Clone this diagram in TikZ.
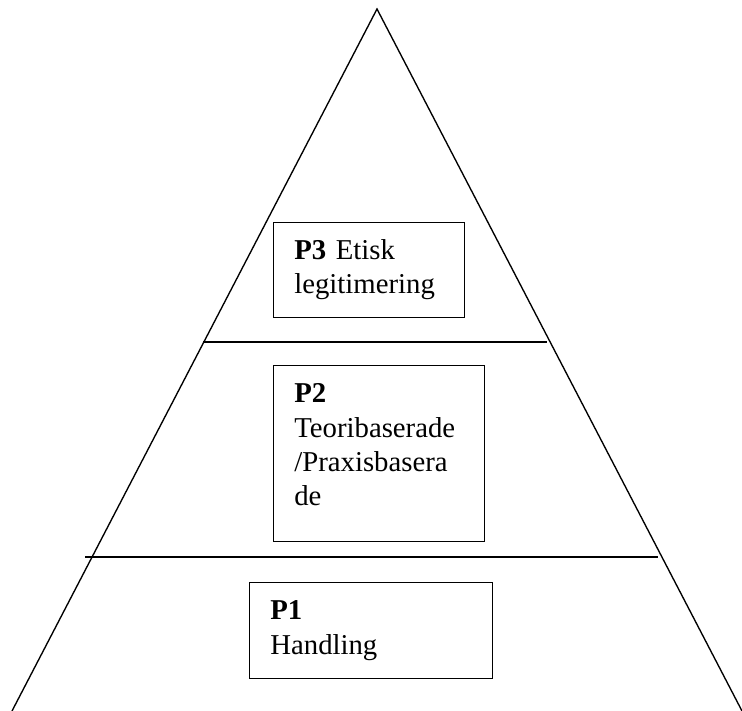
\documentclass[tikz,border=0pt]{standalone}
\usepackage{fontspec}
\setmainfont{Liberation Serif}
\usepackage{tikz}

\begin{document}
\begin{tikzpicture}[x=0.48pt, y=-0.48pt,
  levelbox/.style={draw=black, line width=0.5pt, anchor=north west, align=left,
    inner xsep=10pt, inner ysep=0pt, font=\fontsize{13.8}{16.4}\selectfont},
  edge/.style={line width=0.65pt}]
\useasboundingbox (0,0) rectangle (742,711);

% Pyramid outline
\coordinate (top) at (377,9);
\coordinate (bl) at (12,711);
\coordinate (br) at (742,711);
\draw[edge] (bl) -- (top) -- (br);

% Level dividers
\coordinate (d1l) at (203,342);
\coordinate (d1r) at (547,342);
\coordinate (d2l) at (85,557);
\coordinate (d2r) at (658,557);
\draw[line width=0.75pt] (d1l) -- (d1r);
\draw[line width=0.75pt] (d2l) -- (d2r);

% Level boxes
\node[levelbox, text width=71.5pt, minimum height=45.6pt] (p3) at (273,222) {\textbf{P3} Etisk\\legitimering};
\node[levelbox, text width=81.3pt, minimum height=84.5pt] (p2) at (273,365) {\textbf{P2}\\Teoribaserade\\/Praxisbasera\\de\rule[-8.5pt]{0pt}{1pt}};
\node[levelbox, text width=96.6pt, minimum height=46.1pt] (p1) at (249,582) {\textbf{P1}\\Handling};

\end{tikzpicture}
\end{document}
